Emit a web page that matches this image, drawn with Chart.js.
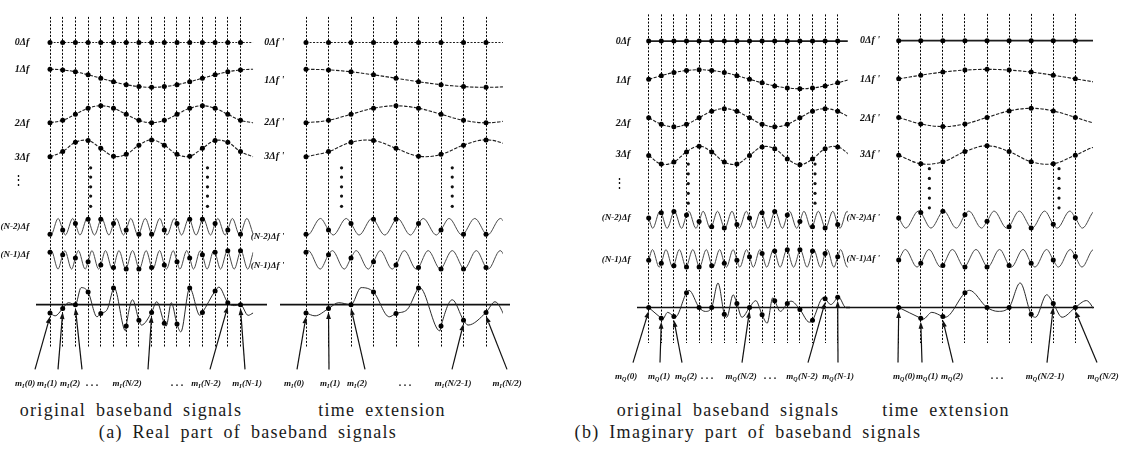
<!DOCTYPE html>
<html><head><meta charset="utf-8">
<script src="https://cdn.jsdelivr.net/npm/chart.js@4.4.1/dist/chart.umd.min.js"></script>
<style>
html,body{margin:0;padding:0;background:#fff;}
#wrap{position:relative;width:1133px;height:472px;overflow:hidden;background:#fff;}
.panel{position:absolute;top:0;height:472px;}
.cap{position:absolute;font-family:"Liberation Serif","DejaVu Serif",serif;font-size:18px;color:#1a1a1a;white-space:nowrap;transform:translate(-50%,-50%);letter-spacing:1.3px;word-spacing:4px;}
</style></head><body><div id="wrap"></div>
<script>
// ---------------- DATA ----------------
// sample instants (one per dotted time line)
const SAMPLES_ORIG = [0,1,2,3,4,5,6,7,8,9,10,11,12,13,14,15];
const SAMPLES_EXT  = [0,1,2,3,4,5,6,7,8];

// (a) real part: subcarrier values at the sample instants (unit amplitude, + = up)
const realK0 = [0,0,0,0,0,0,0,0,0,0,0,0,0,0,0,0];
const realK1 = [1,0.92,0.71,0.38,0,-0.38,-0.71,-0.92,-1,-0.92,-0.71,-0.38,0,0.38,0.71,0.92];
const realK2 = [-1,-0.71,0,0.71,1,0.71,0,-0.71,-1,-0.71,0,0.71,1,0.71,0,-0.71];
const realK3 = [-1,-0.38,0.71,0.92,0,-0.92,-0.71,0.38,1,0.38,-0.71,-0.92,0,0.92,0.71,-0.38];
const realKNm2 = [-0.92,-0.38,0.38,0.92,0.92,0.38,-0.38,-0.92,-0.92,-0.38,0.38,0.92,0.92,0.38,-0.38,-0.92];
const realKNm2Peaks   = [0.64,1.79,2.93,4.07,5.21,6.36,7.5,8.64,9.79,10.93,12.07,13.21,14.36,15.5];
const realKNm2Troughs = [0.07,1.21,2.36,3.5,4.64,5.79,6.93,8.07,9.21,10.36,11.5,12.64,13.79,14.93];
const realKNm1 = [0.83,0.56,0.2,-0.2,-0.56,-0.83,-0.98,-0.98,-0.83,-0.56,-0.2,0.2,0.56,0.83,0.98,0.98];
const realKNm1Peaks   = [0.1,1.17,2.23,3.3,4.37,5.43,6.5,7.57,8.63,9.7,10.77,11.83,12.9,13.97,15.03];
const realKNm1Troughs = [0.63,1.7,2.77,3.83,4.9,5.97,7.03,8.1,9.17,10.23,11.3,12.37,13.43,14.5,15.57];
// summed baseband signal m_I(n) and its shape between samples
const realSum  = [-8.5,-4,0,13,-9,17,-22,-16,-8,-19,-20,17,-8,14,2,0];
const realSumBetweenT = [0.4,1.45,2.45,3.7,4.5,5.05,5.95,6.5,7.2,8.4,9.15,9.55,10.3,11.8,13.3,14.5,15.6];
const realSumBetweenV = [-11.5,2,17.5,-12.5,-5,17.5,-27,5,-21,3,-22,2,-28,-11,18,-1,-11];

// (b) imaginary part
const imagK0 = [0,0,0,0,0,0,0,0,0,0,0,0,0,0,0,0];
const imagK1 = [0,0.38,0.71,0.92,1,0.92,0.71,0.38,0,-0.38,-0.71,-0.92,-1,-0.92,-0.71,-0.38];
const imagK2 = [0,-0.71,-1,-0.71,0,0.71,1,0.71,0,-0.71,-1,-0.71,0,0.71,1,0.71];
const imagK3 = [0,-0.92,-0.71,0.38,1,0.38,-0.71,-0.92,0,0.92,0.71,-0.38,-1,-0.38,0.71,0.92];
const imagKNm2 = [0.2,0.83,0.98,0.56,-0.2,-0.83,-0.98,-0.56,0.2,0.83,0.98,0.56,-0.2,-0.83,-0.98,-0.56];
const imagKNm2Peaks   = [0.89,2.04,3.18,4.32,5.46,6.61,7.75,8.89,10.04,11.18,12.32,13.46,14.61,15.75];
const imagKNm2Troughs = [0.32,1.46,2.61,3.75,4.89,6.04,7.18,8.32,9.46,10.61,11.75,12.89,14.04,15.18];
const imagKNm1 = [-0.2,-0.56,-0.83,-0.98,-0.98,-0.83,-0.56,-0.2,0.2,0.56,0.83,0.98,0.98,0.83,0.56,0.2];
const imagKNm1Peaks   = [0.3,1.37,2.43,3.5,4.57,5.63,6.7,7.77,8.83,9.9,10.97,12.03,13.1,14.17,15.23];
const imagKNm1Troughs = [0.83,1.9,2.97,4.03,5.1,6.17,7.23,8.3,9.37,10.43,11.5,12.57,13.63,14.7,15.77];
const imagSum  = [0,-11,-9.3,15,0,0,-7,4,0,-7.5,7,4,-2,-13,9,10.5];
const imagSumBetweenT = [1.1,1.5,2.1,3.2,4.5,5.5,6.2,6.7,7.4,8.5,9.4,9.85,10.45,11.3,12.75,13.85,14.45,15.05,15.65];
const imagSumBetweenV = [-12,-5,-10,17.5,-4,25,-10,13,-10,7,-16,10,-4,6.5,-15,10,3,11,0];

// tick / row labels
const rowLabelsOrig = ['0Δf','1Δf','2Δf','3Δf','⋮ ','(N-2)Δf','(N-1)Δf'];
const rowLabelsExt  = ["0Δf '","1Δf '","2Δf '","3Δf '","(N-2)Δf '","(N-1)Δf '"];
// symbol labels under the summed signal
const symTextOrig   = ['(0)','(1)','(2)','. . .','(N/2)','. . .','(N-2)','(N-1)'];
const symSampleOrig = [0,1,2,null,8,null,14,15];
const symTextExt    = ['(0)','(1)','(2)','. . .','(N/2-1)','(N/2)'];
const symSampleExt  = [0,1,2,null,7,8];

// ---------------- LAYOUT ----------------
const AW = 60;       // width reserved for row labels
const PAD_R = 44;
const panels = [
 { sub:'I', firstLine:50, spacing:12.7, tMin:-0.1, tMax:16, top:8, bottom:347, samples:SAMPLES_ORIG,
   rows:[{v:realK0},{v:realK1},{v:realK2},{v:realK3},{v:realKNm2,pk:realKNm2Peaks,tr:realKNm2Troughs},{v:realKNm1,pk:realKNm1Peaks,tr:realKNm1Troughs}],
   sum:{v:realSum,t:realSumBetweenT,b:realSumBetweenV},
   rowBase:[34.3,71,108,143,223.5,257.5], rowAmp:[0,9.3,8.7,8.7,8.5,9.5], sumBase:303.5, sumLine:[36,267],
   labels:rowLabelsOrig, labelY:[34.3,62,117,152,176,223,252], labelPad:11.5,
   ellT:[3.2,12.4], ellY:[163,172.5,182.5,192,202.5],
   symText:symTextOrig, symN:symSampleOrig, symCx:[25,47,70,92,127,177,206,247], symTx:[35,58,82,null,148,null,210,245], symY:386, tailY:370,
   dcDash:[2,1.5], dcWidth:1.2 },
 { sub:'I', firstLine:306, spacing:22.5, tMin:-0.1, tMax:8.75, top:8, bottom:347, samples:SAMPLES_EXT,
   rows:[{v:realK0},{v:realK1},{v:realK2},{v:realK3},{v:realKNm2,pk:realKNm2Peaks,tr:realKNm2Troughs},{v:realKNm1,pk:realKNm1Peaks,tr:realKNm1Troughs}],
   sum:{v:realSum,t:realSumBetweenT,b:realSumBetweenV},
   rowBase:[34.3,71,108,143,223.5,257.5], rowAmp:[0,9.3,8.7,8.7,8.5,9.5], sumBase:303.5, sumLine:[280,510],
   labels:rowLabelsExt, labelY:[34.3,73.3,116.7,151.7,233.3,263.3], labelPad:11.5,
   ellT:[1.58,6.5], ellY:[163,172.5,182.5,192,202.5],
   symText:symTextExt, symN:symSampleExt, symCx:[294,330,357,405,453,507], symTx:[297,329,365,null,452,507], symY:386, tailY:370,
   dcDash:[2,1.5], dcWidth:1.2 },
 { sub:'Q', firstLine:648.7, spacing:12.6, tMin:-0.1, tMax:15.8, top:7, bottom:343, samples:SAMPLES_ORIG,
   rows:[{v:imagK0},{v:imagK1},{v:imagK2},{v:imagK3},{v:imagKNm2,pk:imagKNm2Peaks,tr:imagKNm2Troughs},{v:imagKNm1,pk:imagKNm1Peaks,tr:imagKNm1Troughs}],
   sum:{v:imagSum,t:imagSumBetweenT,b:imagSumBetweenV},
   rowBase:[34.3,73.3,112.7,151.2,217,256.5], rowAmp:[0,9.7,9.3,9.5,8.7,9], sumBase:306.7, sumLine:[637,850],
   labels:rowLabelsOrig, labelY:[34.3,75,118.3,150,180,215,258.3], labelPad:9,
   ellT:[3.14,13.2], ellY:[160,170,180,190,200],
   symText:symTextOrig, symN:symSampleOrig, symCx:[626,659,686,707,741,770,802,838], symTx:[633,660,682,null,742,null,808,838], symY:379, tailY:363,
   dcDash:[], dcWidth:1.6 },
 { sub:'Q', firstLine:898.7, spacing:22.08, tMin:-0.1, tMax:8.8, top:7, bottom:343, samples:SAMPLES_EXT,
   rows:[{v:imagK0},{v:imagK1},{v:imagK2},{v:imagK3},{v:imagKNm2,pk:imagKNm2Peaks,tr:imagKNm2Troughs},{v:imagKNm1,pk:imagKNm1Peaks,tr:imagKNm1Troughs}],
   sum:{v:imagSum,t:imagSumBetweenT,b:imagSumBetweenV},
   rowBase:[34.3,73.3,112.7,151.2,217,256.5], rowAmp:[0,9.7,9.3,9.5,8.7,9], sumBase:306.7, sumLine:[846,1094],
   labels:rowLabelsExt, labelY:[34.3,74,113.3,150.7,215,256.7], labelPad:8.5,
   ellT:[1.39,7.26], ellY:[165,175,185,195,205],
   symText:symTextExt, symN:symSampleExt, symCx:[904,927,952,997,1045,1103], symTx:[898,922,953,null,1047,1097], symY:379, tailY:363,
   dcDash:[], dcWidth:1.6 }
];

const captions = [
 {text:'original baseband signals', x:131, y:410},
 {text:'time extension', x:382, y:410},
 {text:'(a) Real part of baseband signals', x:248, y:432},
 {text:'original baseband signals', x:728, y:410},
 {text:'time extension', x:946, y:410},
 {text:'(b) Imaginary part of baseband signals', x:748, y:432}
];

// ---------------- BUILD ----------------
const wrap = document.getElementById('wrap');
captions.forEach(c => {
  const d = document.createElement('div'); d.className = 'cap';
  d.textContent = c.text; d.style.left = c.x + 'px'; d.style.top = c.y + 'px';
  wrap.appendChild(d);
});

function curvePoints(samples, peaks, troughs) {
  const pts = samples.map((v, i) => ({x: i, v}));
  (peaks || []).forEach(t => pts.push({x: t, v: 1}));
  (troughs || []).forEach(t => pts.push({x: t, v: -1}));
  pts.push({x: samples.length, v: samples[0]}); // periodic: trace ends where it began
  return pts.sort((a, b) => a.x - b.x);
}
function sumPoints(s) {
  const pts = s.v.map((v, i) => ({x: i, v}));
  s.t.forEach((t, i) => pts.push({x: t, v: s.b[i]}));
  pts.push({x: s.v.length, v: s.v[0]});
  return pts.sort((a, b) => a.x - b.x);
}

function drawSym(ctx, cx, y, sub, arg) {
  const fm = 'italic bold 9px "Liberation Serif"', fs = 'italic bold 6px "Liberation Serif"';
  ctx.textAlign = 'left'; ctx.textBaseline = 'alphabetic'; ctx.fillStyle = '#111';
  if (arg.indexOf('.') === 0) {
    ctx.font = 'bold 10px "Liberation Serif"';
    const w = ctx.measureText(arg).width; ctx.fillText(arg, cx - w / 2, y); return;
  }
  ctx.font = fm; const w1 = ctx.measureText('m').width, w3 = ctx.measureText(arg).width;
  ctx.font = fs; const w2 = ctx.measureText(sub).width;
  let x = cx - (w1 + w2 + w3) / 2;
  ctx.font = fm; ctx.fillText('m', x, y); x += w1;
  ctx.font = fs; ctx.fillText(sub, x, y + 2); x += w2 + 0.3;
  ctx.font = fm; ctx.fillText(arg, x, y);
}

function arrow(ctx, x1, y1, x2, y2) {
  const a = Math.atan2(y2 - y1, x2 - x1), hl = 7, hw = 2.4;
  const bx = x2 - hl * Math.cos(a), by = y2 - hl * Math.sin(a);
  ctx.beginPath(); ctx.moveTo(x1, y1); ctx.lineTo(bx, by);
  ctx.lineWidth = 1.2; ctx.strokeStyle = '#111'; ctx.stroke();
  ctx.beginPath(); ctx.moveTo(x2, y2);
  ctx.lineTo(bx + hw * Math.sin(a), by - hw * Math.cos(a));
  ctx.lineTo(bx - hw * Math.sin(a), by + hw * Math.cos(a));
  ctx.closePath(); ctx.fillStyle = '#111'; ctx.fill();
}

panels.forEach(p => {
  const areaL = p.firstLine + p.tMin * p.spacing;
  const areaR = p.firstLine + p.tMax * p.spacing;
  const Lint = Math.floor(areaL - AW);
  const aw = areaL - Lint;
  const W = Math.ceil(aw + (areaR - areaL) + PAD_R);
  const padR = W - aw - (areaR - areaL);
  const div = document.createElement('div'); div.className = 'panel';
  div.style.left = Lint + 'px'; div.style.width = W + 'px';
  const cv = document.createElement('canvas');
  cv.width = W; cv.height = 472; cv.style.width = W + 'px'; cv.style.height = '472px';
  div.appendChild(cv); wrap.appendChild(div);

  const ds = [];
  p.rows.forEach((row, r) => {
    const base = p.rowBase[r], amp = p.rowAmp[r], hf = !!row.pk;
    const pts = curvePoints(row.v, row.pk, row.tr);
    ds.push({
      data: pts.map(q => ({x: q.x, y: base - q.v * amp})),
      borderColor: hf ? '#4a4a4a' : '#1e1e1e',
      borderWidth: r === 0 ? p.dcWidth : (hf ? 1 : 1.1),
      borderDash: r === 0 ? p.dcDash : (hf ? [] : [3.5, 1.5]),
      pointRadius: 0, tension: hf ? 0 : 0.4,
      cubicInterpolationMode: hf ? 'monotone' : 'default', order: 2
    });
    ds.push({
      data: p.samples.map(n => ({x: n, y: base - row.v[n] * amp})),
      showLine: false, pointRadius: 2.5, pointBackgroundColor: '#000', pointBorderWidth: 0,
      clip: false, order: 1
    });
  });
  ds.push({
    data: sumPoints(p.sum).map(q => ({x: q.x, y: p.sumBase - q.v})),
    borderColor: '#2a2a2a', borderWidth: 1, pointRadius: 0,
    cubicInterpolationMode: 'monotone', order: 2
  });
  ds.push({
    data: p.samples.map(n => ({x: n, y: p.sumBase - p.sum.v[n]})),
    showLine: false, pointRadius: 2.5, pointBackgroundColor: '#000', pointBorderWidth: 0,
    clip: false, order: 1
  });

  const decor = {
    id: 'decor',
    beforeDatasetsDraw(chart) {
      const ctx = chart.ctx, ys = chart.scales.y;
      ctx.save();
      const y = ys.getPixelForValue(p.sumBase);
      ctx.beginPath(); ctx.moveTo(p.sumLine[0] - Lint, y); ctx.lineTo(p.sumLine[1] - Lint, y);
      ctx.lineWidth = 1.6; ctx.strokeStyle = '#111'; ctx.stroke();
      ctx.restore();
    },
    afterDatasetsDraw(chart) {
      const ctx = chart.ctx, xs = chart.scales.x, ys = chart.scales.y;
      ctx.save();
      ctx.fillStyle = '#111';
      p.ellT.forEach(t => p.ellY.forEach(yy => {
        ctx.beginPath(); ctx.arc(xs.getPixelForValue(t), ys.getPixelForValue(yy), 1.6, 0, Math.PI * 2); ctx.fill();
      }));
      p.symText.forEach((txt, i) => {
        drawSym(ctx, p.symCx[i] - Lint, p.symY, p.sub, txt);
        const n = p.symN[i];
        if (n !== null) {
          const tipX = xs.getPixelForValue(n);
          const tipY = ys.getPixelForValue(p.sumBase - p.sum.v[n]) + 3.5;
          arrow(ctx, p.symTx[i] - Lint, ys.getPixelForValue(p.tailY), tipX, tipY);
        }
      });
      ctx.restore();
    }
  };

  new Chart(cv, {
    type: 'line',
    data: {datasets: ds},
    options: {
      responsive: false, animation: false, events: [],
      layout: {padding: {left: 0, right: padR, top: p.top, bottom: 472 - p.bottom}},
      plugins: {legend: {display: false}, tooltip: {enabled: false}, title: {display: false}},
      scales: {
        x: {
          type: 'linear', min: p.tMin, max: p.tMax,
          afterFit: s => { s.height = 0; },
          afterBuildTicks: s => { s.ticks = p.samples.map(v => ({value: v})); },
          ticks: {display: false},
          grid: {color: '#000', lineWidth: 1, drawTicks: false},
          border: {display: false, dash: [2, 1.6]}
        },
        y: {
          type: 'linear', reverse: true, min: p.top, max: p.bottom,
          afterFit: s => { s.width = aw; },
          afterBuildTicks: s => { s.ticks = p.labelY.map(v => ({value: v})); },
          grid: {display: false}, border: {display: false},
          ticks: {
            autoSkip: false, padding: p.labelPad, color: '#111',
            font: c => {
              const lb = p.labels[c.index] || '';
              if (lb.indexOf('⋮') === 0) return {family: '"DejaVu Serif"', size: 13, weight: 'normal'};
              return {family: '"Liberation Serif"', size: lb.length > 5 ? 9 : 10, style: 'italic', weight: 'bold'};
            },
            callback: (v, i) => p.labels[i]
          }
        }
      }
    },
    plugins: [decor]
  });
});
</script></body></html>
